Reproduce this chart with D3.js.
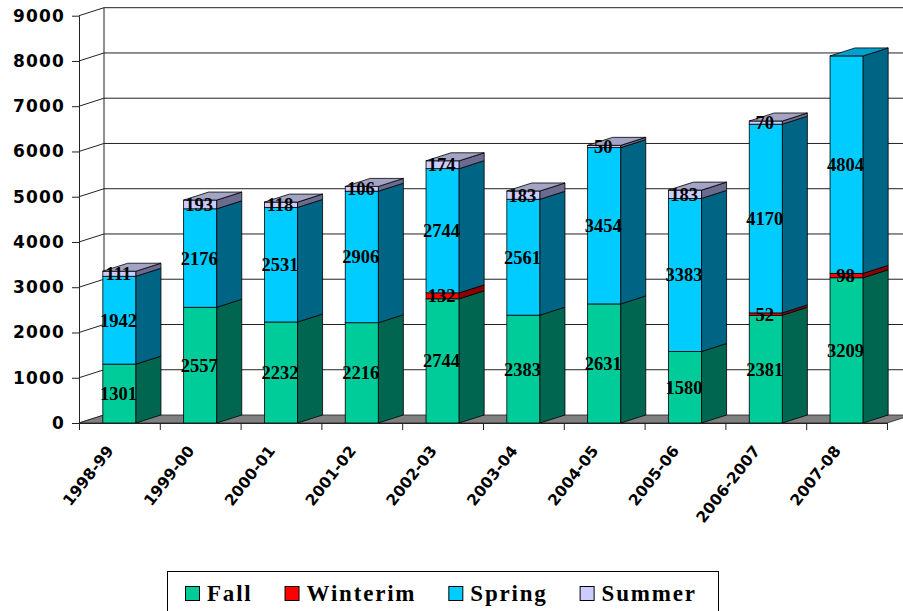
<!DOCTYPE html>
<html>
<head>
<meta charset="utf-8">
<script src="https://cdn.jsdelivr.net/npm/d3@7"></script>
<style>
  body { margin: 0; background: #fff; }
  svg { display: block; }
</style>
</head>
<body>
<svg></svg>
<script>
const categories = ['1998-99', '1999-00', '2000-01', '2001-02', '2002-03', '2003-04', '2004-05', '2005-06', '2006-2007', '2007-08']
const fall = [1301, 2557, 2232, 2216, 2744, 2383, 2631, 1580, 2381, 3209]
const winterim = [0, 0, 0, 0, 132, 0, 0, 0, 52, 98]
const spring = [1942, 2176, 2531, 2906, 2744, 2561, 3454, 3383, 4170, 4804]
const summer = [111, 193, 118, 106, 174, 183, 50, 183, 70, 0]
const yTicks = [0, 1000, 2000, 3000, 4000, 5000, 6000, 7000, 8000, 9000]
const seriesNames = ['Fall', 'Winterim', 'Spring', 'Summer']

const w = 903
const h = 611
const x0 = 79
const x1 = 887
const yBase = 423
const yTop = 15.7
const dx = 25
const dy = -8

const colors = {
  Fall: { front: '#00cc99', side: '#006650', top: '#00a37a' },
  Winterim: { front: '#ff0000', side: '#8c0000', top: '#cc0000' },
  Spring: { front: '#00ccff', side: '#006485', top: '#009fcc' },
  Summer: { front: '#ccccff', side: '#6b6b8f', top: '#a3a3c4' }
}

const rows = categories.map((c, i) => ({
  cat: c, Fall: fall[i], Winterim: winterim[i], Spring: spring[i], Summer: summer[i]
}))

const stack = d3.stack().keys(seriesNames)(rows)

const svg = d3.select('svg').attr('width', w).attr('height', h)

const slot = d3.scaleBand().domain(categories).range([x0, x1])
const x = d3.scaleBand().domain(categories).range([x0, x1]).paddingInner(0.59).paddingOuter(0.295)
const y = d3.scaleLinear().domain([0, 9000]).range([yBase, yTop])

const line = '#222'

// back wall and gridlines
svg.append('g')
  .selectAll('line')
  .data(yTicks.slice(1))
  .enter()
  .append('line')
  .attr('x1', x0 + dx)
  .attr('x2', w)
  .attr('y1', d => y(d) + dy)
  .attr('y2', d => y(d) + dy)
  .attr('stroke', line)
  .attr('stroke-width', 1)

svg.append('line')
  .attr('x1', x0 + dx).attr('x2', x0 + dx)
  .attr('y1', y(9000) + dy).attr('y2', y(0) + dy)
  .attr('stroke', line)

// side wall diagonals
svg.append('g')
  .selectAll('line')
  .data(yTicks)
  .enter()
  .append('line')
  .attr('x1', x0)
  .attr('x2', x0 + dx)
  .attr('y1', d => y(d))
  .attr('y2', d => y(d) + dy)
  .attr('stroke', line)

// floor
svg.append('polygon')
  .attr('points', [[x0, y(0)], [x1, y(0)], [x1 + dx, y(0) + dy], [x0 + dx, y(0) + dy]].join(' '))
  .attr('fill', '#808080')
  .attr('stroke', line)
  .attr('stroke-width', 0.8)

// bars
const segs = []
stack.forEach(layer => {
  layer.forEach(d => {
    if (d[1] - d[0] > 0) segs.push({ key: layer.key, cat: d.data.cat, y0: d[0], y1: d[1], v: d[1] - d[0] })
  })
})

const bars = svg.append('g')

bars.selectAll('rect')
  .data(segs)
  .enter()
  .append('rect')
  .attr('x', d => x(d.cat))
  .attr('y', d => y(d.y1))
  .attr('width', x.bandwidth())
  .attr('height', d => y(d.y0) - y(d.y1))
  .attr('fill', d => colors[d.key].front)
  .attr('stroke', '#000')
  .attr('stroke-width', 0.8)

bars.selectAll('polygon.side')
  .data(segs)
  .enter()
  .append('polygon')
  .attr('class', 'side')
  .attr('points', d => {
    const xr = x(d.cat) + x.bandwidth()
    return [[xr, y(d.y0)], [xr, y(d.y1)], [xr + dx, y(d.y1) + dy], [xr + dx, y(d.y0) + dy]].join(' ')
  })
  .attr('fill', d => colors[d.key].side)
  .attr('stroke', '#000')
  .attr('stroke-width', 0.8)

const tops = categories.map(c => {
  const s = segs.filter(d => d.cat === c)
  return s[s.length - 1]
})

bars.selectAll('polygon.top')
  .data(tops)
  .enter()
  .append('polygon')
  .attr('class', 'top')
  .attr('points', d => {
    const xl = x(d.cat)
    const xr = xl + x.bandwidth()
    const yt = y(d.y1)
    return [[xl, yt], [xr, yt], [xr + dx, yt + dy], [xl + dx, yt + dy]].join(' ')
  })
  .attr('fill', d => colors[d.key].top)
  .attr('stroke', '#000')
  .attr('stroke-width', 0.8)

// value labels
svg.append('g')
  .selectAll('text')
  .data(segs)
  .enter()
  .append('text')
  .attr('x', d => x(d.cat) + x.bandwidth() / 2 - 1)
  .attr('y', d => y((d.y0 + d.y1) / 2))
  .attr('dy', '0.35em')
  .attr('text-anchor', 'middle')
  .attr('font-family', '"Liberation Serif", "Times New Roman", serif')
  .attr('font-weight', 'bold')
  .attr('font-size', 18.5)
  .attr('fill', '#000')
  .text(d => d.v)

// y axis
const yAxis = d3.axisLeft(y).tickValues(yTicks).tickSize(7).tickSizeOuter(0).tickPadding(7).tickFormat(d3.format('d'))
const gy = svg.append('g')
  .attr('transform', `translate(${x0}, 0)`)
  .call(yAxis)
gy.selectAll('path, line').attr('stroke', line)
gy.selectAll('text')
  .attr('font-family', '"DejaVu Sans", Verdana, sans-serif')
  .attr('font-weight', 'bold')
  .attr('font-size', 17)
  .attr('letter-spacing', '1.2px')
  .attr('fill', '#000')

// x axis
const xi = d3.scaleLinear().domain([0, categories.length]).range([x0, x1])
const xAxis = d3.axisBottom(xi).ticks(categories.length).tickSize(7).tickSizeOuter(0).tickFormat('')
const gx = svg.append('g')
  .attr('transform', `translate(0, ${yBase})`)
  .call(xAxis)
gx.selectAll('path, line').attr('stroke', line)

svg.append('g')
  .selectAll('text')
  .data(categories)
  .enter()
  .append('text')
  .attr('transform', d => `translate(${slot(d) + slot.bandwidth() / 2 - 5}, 451) rotate(-52)`)
  .attr('text-anchor', 'end')
  .attr('font-family', '"DejaVu Sans", Verdana, sans-serif')
  .attr('font-weight', 'bold')
  .attr('font-size', 15.5)
  .attr('fill', '#000')
  .text(d => d)

// legend
const legend = svg.append('g')
legend.append('rect')
  .attr('x', 167.5).attr('y', 571.5)
  .attr('width', 551).attr('height', 60)
  .attr('fill', '#fff')
  .attr('stroke', '#000')

let lx = 185
seriesNames.forEach(name => {
  legend.append('rect')
    .attr('x', lx + 0.5).attr('y', 586.5)
    .attr('width', 14).attr('height', 14)
    .attr('fill', colors[name].front)
    .attr('stroke', '#000')
  const t = legend.append('text')
    .attr('x', lx + 22)
    .attr('y', 601)
    .attr('font-family', '"Liberation Serif", "Times New Roman", serif')
    .attr('font-weight', 'bold')
    .attr('font-size', 23)
    .attr('letter-spacing', '1.8px')
    .attr('fill', '#000')
    .text(name)
  lx += 22 + t.node().getComputedTextLength() + 32
})
</script>
</body>
</html>
